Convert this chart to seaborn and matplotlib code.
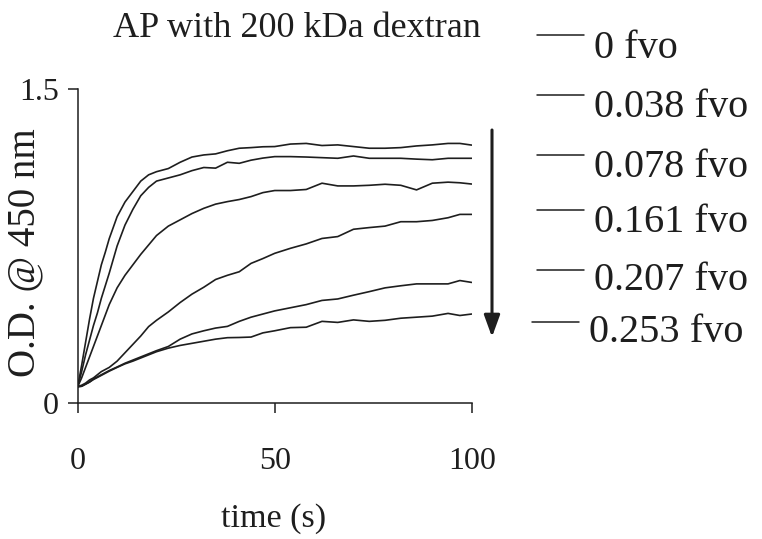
import matplotlib
matplotlib.use("Agg")
import matplotlib.pyplot as plt
import numpy as np
import pandas as pd
import seaborn as sns

# ---- data ----
time_s = [0, 1, 2, 3, 4, 5, 6, 7, 8, 10, 12, 14, 16, 18, 20, 23, 26, 29, 32, 35,
          38, 41, 44, 47, 50, 54, 58, 62, 66, 70, 74, 78, 82, 86, 90, 94, 97, 100]

od_0 = [0.078, 0.18, 0.29, 0.40, 0.50, 0.58, 0.66, 0.72, 0.785, 0.89, 0.96, 1.01,
        1.06, 1.09, 1.105, 1.12, 1.15, 1.175, 1.185, 1.19, 1.205, 1.217, 1.22,
        1.224, 1.225, 1.237, 1.24, 1.23, 1.233, 1.225, 1.217, 1.217, 1.22, 1.228,
        1.233, 1.24, 1.24, 1.232]
od_0038 = [0.078, 0.15, 0.23, 0.30, 0.37, 0.43, 0.50, 0.56, 0.62, 0.75, 0.85, 0.925,
           0.99, 1.03, 1.06, 1.075, 1.09, 1.11, 1.125, 1.122, 1.15, 1.145, 1.16,
           1.17, 1.177, 1.177, 1.175, 1.172, 1.169, 1.18, 1.169, 1.169, 1.169,
           1.165, 1.162, 1.169, 1.169, 1.169]
od_0078 = [0.078, 0.12, 0.17, 0.22, 0.27, 0.32, 0.37, 0.42, 0.47, 0.55, 0.61, 0.66,
           0.71, 0.755, 0.80, 0.845, 0.875, 0.905, 0.93, 0.95, 0.962, 0.972, 0.986,
           1.005, 1.015, 1.015, 1.02, 1.05, 1.037, 1.037, 1.04, 1.045, 1.04, 1.018,
           1.05, 1.055, 1.052, 1.046]
od_0161 = [0.078, 0.085, 0.095, 0.11, 0.12, 0.135, 0.15, 0.16, 0.17, 0.20, 0.24,
           0.28, 0.32, 0.365, 0.395, 0.435, 0.48, 0.52, 0.553, 0.59, 0.61, 0.627,
           0.667, 0.69, 0.715, 0.739, 0.76, 0.786, 0.795, 0.83, 0.838, 0.845, 0.866,
           0.866, 0.872, 0.885, 0.901, 0.901]
od_0207 = [0.078, 0.08, 0.09, 0.10, 0.115, 0.125, 0.135, 0.145, 0.155, 0.172, 0.19,
           0.205, 0.22, 0.235, 0.25, 0.27, 0.305, 0.33, 0.345, 0.358, 0.366, 0.39,
           0.41, 0.425, 0.44, 0.455, 0.47, 0.49, 0.497, 0.515, 0.532, 0.55, 0.56,
           0.569, 0.569, 0.569, 0.585, 0.576]
od_0253 = [0.078, 0.08, 0.09, 0.10, 0.112, 0.122, 0.132, 0.142, 0.152, 0.17, 0.187,
           0.2, 0.215, 0.23, 0.245, 0.262, 0.275, 0.285, 0.295, 0.305, 0.312, 0.313,
           0.315, 0.335, 0.345, 0.36, 0.362, 0.39, 0.385, 0.397, 0.39, 0.395, 0.405,
           0.41, 0.415, 0.428, 0.418, 0.425]

series_labels = ["0 fvo", "0.038 fvo", "0.078 fvo", "0.161 fvo", "0.207 fvo", "0.253 fvo"]
series_values = [od_0, od_0038, od_0078, od_0161, od_0207, od_0253]
x_ticks = [0, 50, 100]
y_ticks = [0, 1.5]
y_tick_labels = ["0", "1.5"]

df = pd.concat(
    [pd.DataFrame({"time": time_s, "od": v, "series": lab})
     for lab, v in zip(series_labels, series_values)],
    ignore_index=True)

# ---- style ----
sns.set_theme(style="ticks")
plt.rcParams["font.family"] = ["Liberation Serif", "DejaVu Serif"]
ink = "#1e1e1e"

W, H = 762, 539
fig = plt.figure(figsize=(W / 100, H / 100), dpi=100)
ax = fig.add_axes([77.7 / W, 1 - 403 / H, 394 / W, 314 / H])

sns.lineplot(data=df, x="time", y="od", hue="series", hue_order=series_labels,
             palette=[ink] * len(series_labels), legend=False, linewidth=1.2,
             ax=ax)

ax.set_xlim(0, 100)
ax.set_ylim(0, 1.5)
ax.set_xticks(x_ticks)
ax.set_xticklabels([str(t) for t in x_ticks])
ax.set_yticks(y_ticks)
ax.set_yticklabels(y_tick_labels)
for s in ["top", "right"]:
    ax.spines[s].set_visible(False)
for s in ["left", "bottom"]:
    ax.spines[s].set_color(ink)
    ax.spines[s].set_linewidth(1.1)
ax.tick_params(axis="both", direction="out", length=7.5, width=1.1, color=ink,
               labelcolor=ink)
ax.tick_params(axis="x", labelsize=23, pad=24)
ax.tick_params(axis="y", labelsize=23, pad=6)

ax.set_xlabel("time (s)", fontsize=24.5, color=ink)
ax.xaxis.set_label_coords(0.496, -0.32)
ax.set_ylabel("O.D. @ 450 nm", fontsize=28, color=ink)
ax.yaxis.set_label_coords(-0.088, 0.479)

fig.text(297 / W, 1 - 37 / H, "AP with 200 kDa dextran", ha="center",
         va="baseline", fontsize=26, color=ink)

# ---- manual legend (irregular spacing as in the reference) ----
leg_line_y = [35, 95, 155, 210, 270, 322]
leg_text_base = [58, 117, 177, 232, 290, 342]
leg_x0 = [537, 537, 537, 537, 537, 532]
for lab, ly, tb, x0 in zip(series_labels, leg_line_y, leg_text_base, leg_x0):
    fig.add_artist(plt.Line2D([x0 / W, (x0 + 47) / W], [1 - ly / H, 1 - ly / H],
                              color=ink, lw=1.1, transform=fig.transFigure))
    fig.text((x0 + 57) / W, 1 - tb / H, lab, ha="left", va="baseline",
             fontsize=29, color=ink)

# ---- arrow ----
fig.add_artist(matplotlib.patches.FancyArrowPatch(
    (492 / W, 1 - 130 / H), (492 / W, 1 - 337 / H), transform=fig.transFigure,
    arrowstyle="-|>,head_length=0.55,head_width=0.2", mutation_scale=24,
    color=ink, lw=2.2, shrinkA=0, shrinkB=0))

fig.savefig("out.png", dpi=100, facecolor="white")
